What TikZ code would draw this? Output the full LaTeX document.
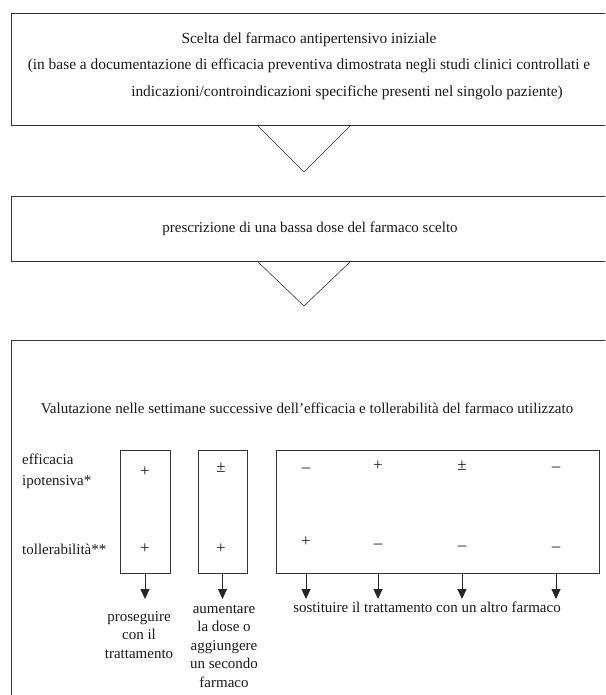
\documentclass[tikz,border=0pt]{standalone}
\usepackage{fontspec}
\setmainfont{Liberation Serif}
\usetikzlibrary{arrows.meta,positioning}

\begin{document}
\begin{tikzpicture}[x=1pt,y=-1pt,
  every node/.style={font=\fontsize{15}{19}\selectfont, inner sep=0pt, text=black!90},
  box/.style={draw=black!80, line width=0.8pt, minimum width=598pt, align=center},
  col/.style={draw=black!80, line width=0.8pt, minimum height=123pt},
  sign/.style={font=\fontsize{17}{19}\selectfont},
  arr/.style={-{Triangle[length=10pt,width=9pt]}, line width=0.8pt, draw=black!85},
  vee/.style={line width=0.6pt, draw=black!80},
  lbl/.style={align=center, font=\fontsize{15}{18.5}\selectfont},
]
\clip (0,0) rectangle (605,695);
% steps
\node[box, minimum height=112pt] (scelta) at (310,69) {};
\node[align=center, font=\fontsize{15.4}{26.5}\selectfont] (sceltatxt) at (309,66)
  {Scelta del farmaco antipertensivo iniziale\\
   (in base a documentazione di efficacia preventiva dimostrata negli studi clinici controllati e\\
   \hspace*{76pt}indicazioni/controindicazioni specifiche presenti nel singolo paziente)};
\node[box, minimum height=65pt] (dose) at (310,228.5) {prescrizione di una bassa dose del farmaco scelto};
\node[box, minimum height=400pt, anchor=north] (valuta) at (310,340) {};
\node (vtxt) at (307,408) {Valutazione nelle settimane successive dell’efficacia e tollerabilità del farmaco utilizzato};
\coordinate (v1) at (304,172);
\coordinate (v2) at (304,306);
\draw[vee] (v1) ++(-47,-47) -- (v1) -- ++(47,-47);
\draw[vee] (v2) ++(-47,-45) -- (v2) -- ++(47,-45);
% rows
\node[anchor=west, align=left, font=\fontsize{15}{21}\selectfont] (eff) at (22,471) {efficacia\\ipotensiva*};
\node[anchor=west] (toll) at (22,549) {tollerabilità**};
% columns
\node[col, minimum width=50pt] (A) at (145,511.5) {};
\node[col, minimum width=49pt] (B) at (222.5,511.5) {};
\node[col, minimum width=323pt] (C) at (437.5,511.5) {};
\node[sign] (Ae) at (145,472) {+};
\node[sign] (At) at (145,549) {+};
\node[sign] (Be) at (221,468) {±};
\node[sign] (Bt) at (221,549) {+};
\node[sign] (e1) at (306,470) {–};
\node[sign] (e2) at (378,466) {+};
\node[sign] (e3) at (462,466) {±};
\node[sign] (e4) at (556,469) {–};
\node[sign] (t1) at (306,542) {+};
\node[sign] (t2) at (378,546) {–};
\node[sign] (t3) at (462,548) {–};
\node[sign] (t4) at (556,549) {–};
% outcomes
\coordinate (tip) at (0,599);
\draw[arr] (A.south) -- (A.south |- tip);
\draw[arr] (B.south) -- (B.south |- tip);
\foreach \i in {1,...,4}
  \draw[arr] (C.south -| e\i) -- (tip -| e\i);
\node[lbl] (prosegui) at (139,635) {proseguire\\con il\\trattamento};
\node[lbl] (aumenta) at (224,646) {aumentare\\la dose o\\aggiungere\\un secondo\\farmaco};
\node (sostit) at (427,607) {sostituire il trattamento con un altro farmaco};
\end{tikzpicture}
\end{document}
